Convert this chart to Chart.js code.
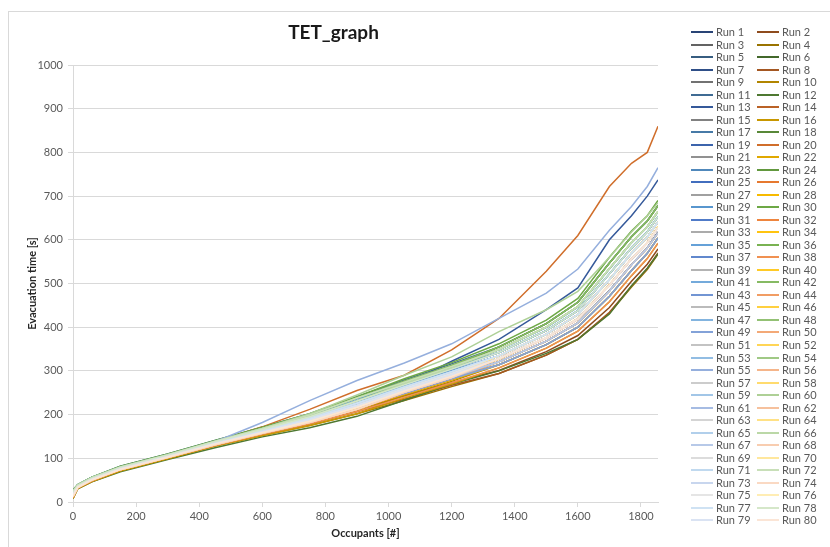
<!DOCTYPE html>
<html><head><meta charset="utf-8">
<script src="https://cdn.jsdelivr.net/npm/chart.js@4"></script>
<style>
html,body{margin:0;padding:0;background:#fff;overflow:hidden;width:830px;height:547px;}
#frame{position:absolute;left:8px;top:11px;width:850px;height:560px;border:1px solid #D9D9D9;box-sizing:border-box;}
#wrap{position:absolute;left:9px;top:12px;width:832px;height:535px;}
#legend{position:absolute;left:691px;top:25px;width:140px;height:510px;font-family:Lato,"Open Sans",sans-serif;font-size:11px;color:#595959;}
.li{position:absolute;height:13px;width:70px;}
.li .sw{position:absolute;left:0;top:6px;width:22px;height:2px;}
.li .tx{position:absolute;left:25px;top:0;line-height:13px;white-space:nowrap;}
</style>
</head><body>
<div id="frame"></div>
<div id="wrap"><canvas id="c" width="832" height="535"></canvas></div>
<div id="legend"></div>
<script>
// Occupant counts at which each run is sampled
const OCC = [0, 15, 60, 150, 300, 450, 600, 750, 900, 1050, 1200, 1350, 1500, 1600, 1700, 1770, 1820, 1854];
const Y_MAX = 1000;
const X_MAX = 1854;
// Evacuation time [s] for each run
const run1  = [14, 35, 52, 76, 104, 134, 160, 188, 220, 254, 288, 321, 368, 410, 484, 543, 582, 618];
const run2  = [12, 33, 50, 74, 102, 131, 157, 182, 212, 243, 273, 301, 344, 381, 445, 505, 544, 579];
const run3  = [20, 36, 53, 78, 106, 136, 164, 192, 226, 263, 298, 335, 384, 429, 509, 569, 606, 641];
const run4  = [8, 31, 47, 71, 99, 128, 152, 175, 202, 232, 264, 294, 336, 372, 432, 492, 532, 567];
const run5  = [22, 37, 54, 79, 107, 138, 166, 195, 231, 268, 304, 342, 392, 438, 522, 581, 618, 653];
const run6  = [25, 39, 56, 80, 108, 139, 168, 199, 238, 274, 310, 349, 400, 447, 534, 594, 630, 665];
const run7  = [20, 36, 53, 78, 106, 136, 164, 192, 226, 260, 294, 328, 376, 419, 496, 556, 593, 628];
const run8  = [10, 32, 48, 73, 101, 129, 155, 179, 207, 235, 267, 294, 336, 372, 434, 494, 534, 570];
const run9  = [15, 34, 51, 75, 103, 133, 159, 185, 217, 254, 288, 328, 376, 419, 496, 556, 593, 628];
const run10 = [10, 32, 48, 73, 101, 129, 155, 179, 207, 243, 276, 314, 360, 400, 471, 530, 569, 604];
const run11 = [27, 40, 57, 82, 110, 141, 171, 202, 241, 279, 316, 355, 408, 457, 547, 607, 643, 678];
const run12 = [8, 30, 46, 69, 97, 124, 149, 170, 196, 233, 270, 300, 340, 372, 430, 495, 535, 568];
const run13 = [22, 35, 50, 76, 104, 131, 162, 192, 228, 268, 322, 372, 440, 490, 600, 655, 700, 737];
const run14 = [17, 35, 52, 76, 104, 134, 161, 189, 221, 254, 288, 321, 368, 410, 483, 543, 581, 616];
const run15 = [18, 35, 52, 76, 104, 134, 161, 189, 221, 251, 285, 314, 360, 400, 471, 530, 569, 604];
const run16 = [8, 31, 47, 71, 99, 128, 152, 175, 202, 238, 270, 307, 352, 391, 458, 518, 557, 592];
const run17 = [25, 39, 56, 80, 108, 139, 168, 199, 238, 271, 307, 342, 392, 438, 522, 581, 618, 653];
const run18 = [22, 37, 54, 79, 107, 138, 166, 195, 231, 274, 310, 355, 408, 457, 547, 607, 643, 678];
const run19 = [19, 36, 53, 78, 106, 136, 164, 192, 226, 263, 298, 335, 384, 429, 509, 569, 606, 641];
const run20 = [20, 38, 52, 77, 108, 138, 172, 212, 255, 290, 348, 420, 528, 610, 722, 775, 800, 860];
const run21 = [15, 34, 51, 75, 103, 133, 159, 185, 217, 254, 288, 328, 376, 419, 496, 556, 593, 628];
const run22 = [12, 33, 50, 74, 102, 131, 157, 182, 212, 246, 279, 314, 360, 400, 471, 530, 569, 604];
const run23 = [22, 37, 54, 79, 107, 138, 166, 195, 231, 266, 301, 335, 384, 429, 509, 569, 606, 641];
const run24 = [20, 36, 53, 78, 106, 136, 164, 192, 226, 268, 307, 355, 408, 457, 547, 607, 643, 678];
const run25 = [17, 35, 52, 76, 104, 134, 161, 189, 221, 254, 288, 321, 368, 410, 483, 543, 581, 616];
const run26 = [14, 34, 51, 75, 103, 133, 159, 186, 218, 255, 290, 327, 375, 418, 497, 557, 594, 629];
const run27 = [21, 36, 53, 78, 106, 136, 164, 193, 227, 262, 297, 334, 383, 428, 508, 568, 605, 640];
const run28 = [11, 33, 50, 74, 102, 131, 157, 182, 212, 248, 282, 321, 368, 410, 483, 543, 581, 616];
const run29 = [24, 39, 56, 80, 108, 139, 168, 198, 236, 271, 306, 342, 392, 438, 522, 581, 618, 653];
const run30 = [28, 40, 57, 82, 110, 141, 171, 202, 241, 282, 319, 362, 416, 466, 560, 620, 655, 690];
const run31 = [16, 35, 52, 76, 104, 134, 161, 189, 221, 257, 291, 328, 376, 419, 496, 556, 593, 628];
const run32 = [12, 33, 50, 74, 102, 131, 157, 182, 212, 254, 290, 335, 384, 429, 509, 569, 606, 641];
const run33 = [15, 34, 51, 75, 103, 133, 159, 185, 217, 248, 282, 314, 360, 400, 471, 530, 569, 604];
const run34 = [14, 34, 51, 75, 103, 132, 158, 185, 216, 253, 288, 327, 376, 420, 497, 556, 594, 630];
const run35 = [25, 39, 56, 80, 108, 139, 168, 199, 237, 273, 309, 348, 399, 446, 533, 593, 629, 664];
const run36 = [22, 37, 54, 79, 107, 138, 166, 195, 231, 271, 307, 349, 400, 447, 534, 594, 630, 665];
const run37 = [19, 36, 53, 78, 106, 136, 164, 192, 226, 260, 294, 328, 376, 419, 496, 556, 593, 628];
const run38 = [10, 32, 48, 73, 101, 129, 155, 179, 207, 240, 273, 307, 352, 391, 458, 518, 557, 592];
const run39 = [17, 35, 52, 76, 104, 134, 161, 189, 221, 257, 291, 328, 376, 419, 496, 556, 593, 628];
const run40 = [15, 34, 51, 75, 103, 133, 159, 185, 217, 257, 291, 335, 384, 429, 509, 569, 606, 641];
const run41 = [22, 37, 54, 79, 107, 138, 166, 195, 230, 265, 300, 335, 384, 429, 509, 569, 606, 641];
const run42 = [25, 39, 56, 80, 108, 139, 168, 199, 238, 277, 313, 355, 408, 457, 547, 607, 643, 678];
const run43 = [17, 35, 52, 76, 104, 134, 161, 189, 221, 254, 288, 321, 368, 410, 483, 543, 581, 616];
const run44 = [12, 33, 50, 74, 102, 131, 157, 182, 212, 248, 282, 321, 368, 410, 483, 543, 581, 616];
const run45 = [17, 35, 52, 76, 104, 134, 161, 189, 221, 260, 294, 335, 384, 429, 509, 569, 606, 641];
const run46 = [15, 34, 51, 75, 103, 133, 159, 185, 217, 257, 291, 335, 384, 429, 509, 569, 606, 641];
const run47 = [20, 36, 53, 78, 106, 136, 164, 192, 226, 260, 294, 328, 376, 419, 496, 556, 593, 628];
const run48 = [22, 37, 54, 79, 107, 138, 166, 195, 231, 271, 307, 349, 400, 447, 534, 594, 630, 665];
const run49 = [15, 34, 51, 75, 103, 133, 159, 185, 217, 248, 282, 314, 360, 400, 471, 530, 569, 604];
const run50 = [12, 33, 50, 74, 102, 131, 157, 182, 212, 251, 285, 328, 376, 419, 496, 556, 593, 628];
const run51 = [17, 35, 52, 76, 104, 134, 161, 189, 221, 257, 291, 328, 376, 419, 496, 556, 593, 628];
const run52 = [15, 34, 51, 75, 103, 133, 159, 185, 217, 257, 291, 335, 384, 429, 509, 569, 606, 641];
const run53 = [22, 37, 54, 79, 107, 138, 166, 195, 231, 268, 304, 342, 392, 438, 522, 581, 618, 653];
const run54 = [25, 39, 56, 80, 108, 139, 168, 199, 238, 274, 310, 349, 400, 447, 534, 594, 630, 665];
const run55 = [25, 36, 50, 76, 106, 138, 182, 232, 278, 318, 362, 420, 478, 533, 622, 676, 722, 765];
const run56 = [12, 33, 50, 74, 102, 131, 157, 182, 212, 251, 285, 328, 376, 419, 496, 556, 593, 628];
const run57 = [17, 35, 52, 76, 104, 134, 161, 189, 221, 254, 288, 321, 368, 410, 483, 543, 581, 616];
const run58 = [15, 34, 51, 75, 103, 133, 159, 185, 217, 257, 291, 335, 384, 429, 509, 569, 606, 641];
const run59 = [20, 36, 53, 78, 106, 136, 164, 192, 226, 263, 298, 335, 384, 429, 509, 569, 606, 641];
const run60 = [20, 34, 52, 78, 107, 137, 168, 202, 245, 290, 332, 390, 440, 482, 560, 618, 655, 685];
const run61 = [17, 35, 52, 76, 104, 134, 161, 189, 221, 257, 291, 328, 376, 419, 496, 556, 593, 628];
const run62 = [12, 33, 50, 74, 102, 131, 157, 182, 212, 251, 285, 328, 376, 419, 496, 556, 593, 628];
const run63 = [16, 35, 52, 76, 104, 134, 161, 189, 221, 257, 291, 328, 376, 419, 496, 556, 593, 628];
const run64 = [15, 34, 51, 75, 103, 133, 159, 185, 217, 257, 291, 335, 384, 429, 509, 569, 606, 641];
const run65 = [20, 36, 53, 78, 106, 136, 164, 192, 226, 260, 294, 328, 376, 419, 496, 556, 593, 628];
const run66 = [22, 37, 54, 79, 107, 138, 166, 195, 231, 271, 307, 349, 400, 447, 534, 594, 630, 665];
const run67 = [15, 34, 51, 75, 103, 133, 159, 185, 217, 251, 285, 321, 368, 410, 483, 543, 581, 616];
const run68 = [12, 33, 50, 74, 102, 131, 157, 182, 212, 251, 285, 328, 376, 419, 496, 556, 593, 628];
const run69 = [20, 36, 53, 78, 106, 136, 164, 192, 226, 260, 294, 328, 376, 419, 496, 556, 593, 628];
const run70 = [15, 34, 51, 75, 103, 133, 159, 185, 217, 257, 291, 335, 384, 429, 509, 569, 606, 641];
const run71 = [20, 36, 53, 78, 106, 136, 164, 192, 226, 263, 298, 335, 384, 429, 509, 569, 606, 641];
const run72 = [25, 39, 56, 80, 108, 139, 168, 199, 238, 274, 310, 349, 400, 447, 534, 594, 630, 665];
const run73 = [17, 35, 52, 76, 104, 134, 161, 189, 221, 257, 291, 328, 376, 419, 496, 556, 593, 628];
const run74 = [12, 33, 50, 74, 102, 131, 157, 182, 212, 251, 285, 328, 376, 419, 496, 556, 593, 628];
const run75 = [17, 35, 52, 76, 104, 134, 161, 189, 221, 260, 294, 335, 384, 429, 509, 569, 606, 641];
const run76 = [15, 34, 51, 75, 103, 133, 159, 185, 217, 254, 288, 328, 376, 419, 496, 556, 593, 628];
const run77 = [20, 36, 53, 78, 106, 136, 164, 192, 226, 263, 298, 335, 384, 429, 509, 569, 606, 641];
const run78 = [22, 37, 54, 79, 107, 138, 166, 195, 231, 268, 304, 342, 392, 438, 522, 581, 618, 653];
const run79 = [17, 35, 52, 76, 104, 134, 161, 189, 221, 257, 291, 328, 376, 419, 496, 556, 593, 628];
const run80 = [15, 34, 51, 75, 103, 133, 159, 185, 217, 254, 288, 328, 376, 419, 496, 556, 593, 628];

const RUNS = [run1,run2,run3,run4,run5,run6,run7,run8,run9,run10,run11,run12,run13,run14,run15,run16,run17,run18,run19,run20,
  run21,run22,run23,run24,run25,run26,run27,run28,run29,run30,run31,run32,run33,run34,run35,run36,run37,run38,run39,run40,
  run41,run42,run43,run44,run45,run46,run47,run48,run49,run50,run51,run52,run53,run54,run55,run56,run57,run58,run59,run60,
  run61,run62,run63,run64,run65,run66,run67,run68,run69,run70,run71,run72,run73,run74,run75,run76,run77,run78,run79,run80];
const LABELS = RUNS.map((_, i) => 'Run ' + (i + 1));

// Excel-like accent palette, shaded from dark to light across the cycles
const BASE = [[68,114,196],[237,125,49],[165,165,165],[255,192,0],[91,155,213],[112,173,71]];
function runColor(i) {
  const b = BASE[i % 6];
  const c = Math.floor(i / 6);
  const f = -0.4 + c * 0.0923;
  const ch = b.map(v => Math.round(f < 0 ? v * (1 + f) : v + (255 - v) * f));
  return 'rgb(' + ch.join(',') + ')';
}

const FONT = 'Lato, "Open Sans", sans-serif';
const datasets = RUNS.map((vals, i) => ({
  label: LABELS[i],
  data: OCC.map((o, k) => ({x: o, y: vals[k]})),
  borderColor: runColor(i),
  backgroundColor: runColor(i),
  borderWidth: 1.5,
  pointRadius: 0,
  tension: 0,
  order: -i
}));

const chart = new Chart(document.getElementById('c'), {
  type: 'line',
  data: {datasets},
  options: {
    responsive: false,
    animation: false,
    layout: {padding: {left: 0, right: 183, top: 0, bottom: 0}},
    plugins: {
      legend: {display: false},
      tooltip: {enabled: false},
      title: {
        display: true,
        text: 'TET_graph',
        color: '#1a1a1a',
        font: {family: FONT, size: 19, weight: 'bold'},
        padding: {top: 9.6, bottom: 20.6}
      }
    },
    scales: {
      x: {
        type: 'linear',
        min: 0,
        max: X_MAX,
        afterFit: s => { s.height = 45; },
        ticks: {stepSize: 200, includeBounds: false, color: '#595959', font: {family: FONT, size: 11}, padding: 3, maxRotation: 0, callback: v => String(v)},
        grid: {drawOnChartArea: false, drawTicks: true, tickLength: 5, color: '#D9D9D9'},
        border: {color: '#D9D9D9'},
        title: {display: true, text: 'Occupants [#]', color: '#262626', font: {family: FONT, size: 11, weight: 'bold'}, padding: {top: 0, bottom: 7.4}}
      },
      y: {
        min: 0,
        max: Y_MAX,
        afterFit: s => { s.width = 64; },
        ticks: {stepSize: 100, color: '#595959', font: {family: FONT, size: 11}, padding: 5, callback: v => String(v)},
        grid: {color: '#D9D9D9', tickLength: 5},
        border: {color: '#D9D9D9'},
        title: {display: true, text: 'Evacuation time [s]', color: '#262626', font: {family: FONT, size: 11, weight: 'bold'}, padding: {top: 16.4, bottom: 0}}
      }
    }
  }
});

// Legend in two columns, as in the reference
const leg = document.getElementById('legend');
chart.data.datasets.forEach((ds, i) => {
  const row = Math.floor(i / 2), col = i % 2;
  const d = document.createElement('div');
  d.className = 'li';
  d.style.left = (col * 66) + 'px';
  d.style.top = (row * 12.52) + 'px';
  d.innerHTML = '<div class="sw" style="background:' + ds.borderColor + '"></div><div class="tx">' + ds.label + '</div>';
  leg.appendChild(d);
});
</script>
</body></html>
